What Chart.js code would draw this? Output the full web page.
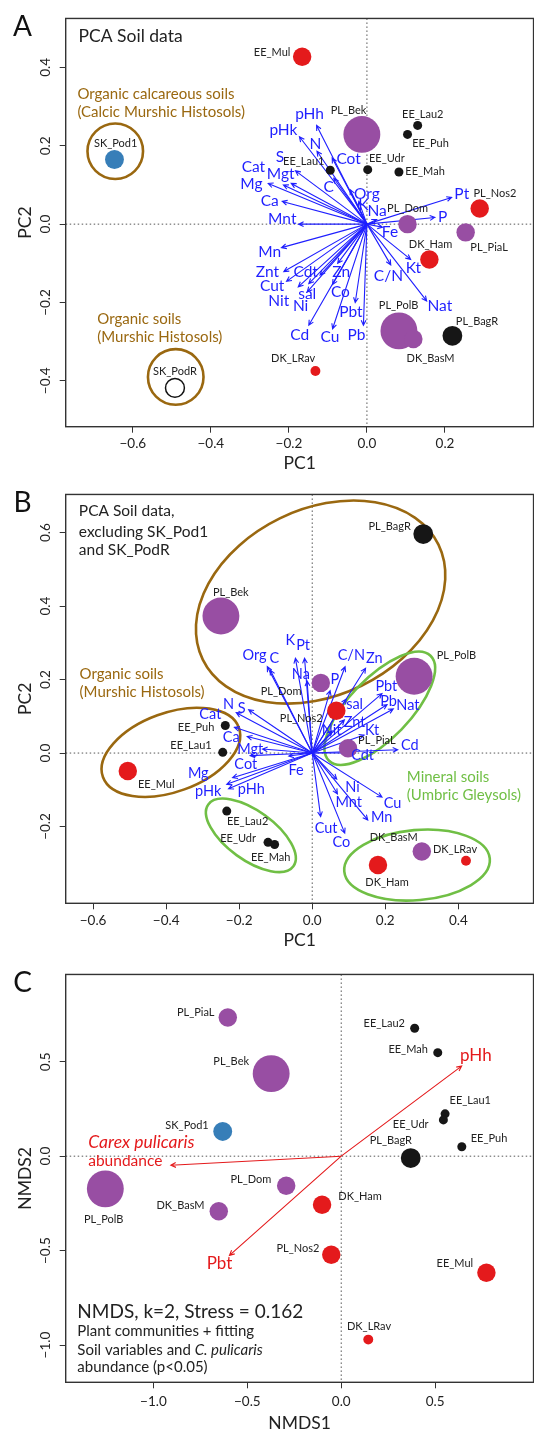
<!DOCTYPE html>
<html>
<head>
<meta charset="utf-8">
<script src="https://cdn.jsdelivr.net/npm/chart.js@4.4.1/dist/chart.umd.min.js"></script>
<style>
html, body { margin: 0; padding: 0; background: #fff; overflow: hidden; width: 534px; height: 1432px; }
.panel { position: absolute; left: 0; width: 552px; }
</style>
</head>
<body>
<div class="panel" style="top:0;height:476px"><canvas id="chartA" width="552" height="476"></canvas></div>
<div class="panel" style="top:476px;height:480px"><canvas id="chartB" width="552" height="480"></canvas></div>
<div class="panel" style="top:956px;height:476px"><canvas id="chartC" width="552" height="476"></canvas></div>
<script>
// sites, colour group and point size class (C. pulicaris abundance)
const sites = ['SK_Pod1','SK_PodR','EE_Mul','EE_Lau1','EE_Lau2','EE_Puh','EE_Udr','EE_Mah','PL_Bek','PL_Nos2','PL_Dom','PL_PiaL','PL_PolB','PL_BagR','DK_Ham','DK_BasM','DK_LRav'];
const siteGroup = ['blue','open','red','black','black','black','black','black','purple','red','purple','purple','purple','black','red','purple','red'];
const siteCex = [2.1, 2.1, 2.05, 1, 1, 1, 1, 1, 4.1, 2.05, 2.05, 2.05, 4.1, 2.2, 2.05, 2.05, 1.1];

// A: PCA all sites
const pcaA_x = [-0.647,-0.492,-0.166,-0.094,0.130,0.104,0.002,0.082,-0.013,0.289,0.104,0.253,0.082,0.219,0.160,0.119,-0.132];
const pcaA_y = [0.165,-0.418,0.427,0.1375,0.252,0.229,0.139,0.133,0.229,0.040,0.000,-0.021,-0.2725,-0.285,-0.090,-0.293,-0.375];
const pcaA_labX = [-0.644,-0.492,-0.243,-0.162,0.143,0.163,0.051,0.149,-0.047,0.328,0.104,0.313,0.081,0.282,0.163,0.163,-0.189];
const pcaA_labY = [0.207,-0.375,0.4375,0.160,0.279,0.207,0.167,0.135,0.289,0.079,0.040,-0.060,-0.208,-0.248,-0.052,-0.343,-0.342];

// B: PCA without SK_Pod1 and SK_PodR
const pcaB_x = [null,null,-0.505,-0.245,-0.234,-0.238,-0.121,-0.103,-0.250,0.066,0.0235,0.098,0.279,0.304,0.180,0.300,0.421];
const pcaB_y = [null,null,-0.049,0.002,-0.158,0.075,-0.243,-0.249,0.373,0.115,0.191,0.013,0.209,0.596,-0.305,-0.268,-0.293];
const pcaB_labX = [null,null,-0.427,-0.332,-0.177,-0.318,-0.203,-0.114,-0.223,-0.030,-0.085,0.177,0.395,0.212,0.205,0.223,0.391];
const pcaB_labY = [null,null,-0.085,0.022,-0.187,0.069,-0.233,-0.284,0.437,0.093,0.169,0.034,0.267,0.618,-0.353,-0.229,-0.262];

// C: NMDS of plant communities
const nmds_x = [-0.631,null,0.773,0.553,0.391,0.642,0.544,0.514,-0.373,-0.053,-0.293,-0.604,-1.256,0.370,-0.102,-0.652,0.144];
const nmds_y = [0.131,null,-0.617,0.224,0.677,0.050,0.192,0.548,0.437,-0.522,-0.157,0.734,-0.173,-0.010,-0.257,-0.292,-0.971];
const nmds_labX = [-0.821,null,0.605,0.687,0.229,0.787,0.370,0.356,-0.586,-0.231,-0.481,-0.775,-1.265,0.264,0.100,-0.856,0.148];
const nmds_labY = [0.164,null,-0.570,0.294,0.705,0.092,0.169,0.566,0.503,-0.487,-0.124,0.762,-0.337,0.083,-0.211,-0.263,-0.902];

// soil variable loadings
const soilVars = ['pHh','pHk','N','S','Cot','Cat','Mgt','Mg','C','Ca','Org','K','Na','Mnt','Pt','P','Fe','Mn','Znt','Cdt','Cut','Nit','sal','Ni','Zn','Co','Pbt','Cd','Cu','Pb','C/N','Kt','Nat'];
const loadA_x = [-0.129,-0.173,-0.128,-0.194,-0.089,-0.214,-0.183,-0.253,-0.085,-0.217,-0.043,-0.021,0.025,-0.175,0.217,0.174,0.040,-0.219,-0.213,-0.120,-0.206,-0.176,-0.149,-0.153,-0.075,-0.088,-0.030,-0.149,-0.088,-0.009,0.061,0.112,0.153];
const loadA_y = [0.252,0.223,0.186,0.104,0.169,0.100,0.136,0.104,0.117,0.058,0.088,0.058,0.012,0.000,0.068,0.017,-0.008,-0.060,-0.121,-0.130,-0.146,-0.160,-0.152,-0.173,-0.100,-0.154,-0.200,-0.258,-0.267,-0.258,-0.104,-0.090,-0.196];
const varA_labX = [-0.147,-0.214,-0.132,-0.223,-0.047,-0.291,-0.221,-0.296,-0.098,-0.249,0.000,-0.009,0.026,-0.217,0.243,0.194,0.059,-0.249,-0.255,-0.157,-0.243,-0.226,-0.153,-0.170,-0.066,-0.068,-0.041,-0.172,-0.095,-0.027,0.055,0.119,0.187];
const varA_labY = [0.282,0.240,0.204,0.171,0.167,0.146,0.129,0.102,0.096,0.060,0.077,0.050,0.033,0.0125,0.077,0.017,-0.021,-0.071,-0.123,-0.123,-0.158,-0.196,-0.179,-0.210,-0.123,-0.173,-0.225,-0.283,-0.288,-0.283,-0.132,-0.113,-0.210];
const loadB_x = [-0.229,-0.234,-0.208,-0.174,-0.170,-0.213,-0.136,-0.218,-0.115,-0.178,-0.123,-0.046,-0.014,0.069,-0.021,0.049,-0.064,0.152,0.088,0.118,0.023,0.054,0.093,0.067,0.146,0.089,0.191,0.234,0.191,0.205,0.090,0.142,0.222];
const loadB_y = [-0.097,-0.085,0.110,0.118,-0.007,0.070,0.011,-0.067,0.226,0.045,0.235,0.258,0.196,-0.111,0.258,0.170,-0.008,-0.182,0.090,0.000,-0.173,0.060,0.147,-0.071,0.231,-0.218,0.162,0.009,-0.120,0.132,0.235,0.049,0.120];
const varB_labX = [-0.167,-0.285,-0.229,-0.193,-0.182,-0.279,-0.170,-0.312,-0.104,-0.222,-0.158,-0.060,-0.031,0.100,-0.025,0.062,-0.044,0.190,0.116,0.138,0.038,0.053,0.116,0.110,0.170,0.080,0.203,0.267,0.220,0.209,0.107,0.164,0.262];
const varB_labY = [-0.100,-0.105,0.133,0.123,-0.031,0.105,0.011,-0.055,0.258,0.044,0.265,0.307,0.213,-0.135,0.292,0.200,-0.046,-0.176,0.085,-0.007,-0.204,0.062,0.133,-0.093,0.258,-0.242,0.182,0.022,-0.138,0.142,0.265,0.062,0.129];

// C: fitted vectors (envfit, p<0.05)
const fitVars = ['pHh', 'Carex pulicaris', 'Pbt'];
const fit_x = [0.641, -0.907, -0.595];
const fit_y = [0.477, -0.048, -0.525];
const fit_labX = [0.717, -1.347, -0.648];
const fit_labY = [0.532, 0.071, -0.570];

// axis ticks
const ticksA_x = [-0.6, -0.4, -0.2, 0, 0.2], ticksA_y = [-0.4, -0.2, 0, 0.2, 0.4];
const ticksB_x = [-0.6, -0.4, -0.2, 0, 0.2, 0.4], ticksB_y = [-0.2, 0, 0.2, 0.4, 0.6];
const ticksC_x = [-1, -0.5, 0, 0.5], ticksC_y = [-1, -0.5, 0, 0.5];

const FONT = 'Lato, "Open Sans", sans-serif';
const BROWN = '#9a6810', GREEN = '#70bf45', BLUE = '#1f1fff', RED = '#e41a1c';
const fills = { blue: '#377eb8', red: '#e41a1c', purple: '#984ea3', black: '#161616', open: 'rgba(0,0,0,0)' };

function fmt(v) {
    return (v < 0 ? '\u2212' : '') + Math.abs(v).toFixed(1);
}

function arrow(ctx, x0, y0, x1, y1, color) {
    const ang = Math.atan2(y1 - y0, x1 - x0), h = 5.5, s = 0.45;
    ctx.strokeStyle = color;
    ctx.lineWidth = 1.1;
    ctx.beginPath();
    ctx.moveTo(x0, y0);
    ctx.lineTo(x1, y1);
    ctx.moveTo(x1 - h * Math.cos(ang - s), y1 - h * Math.sin(ang - s));
    ctx.lineTo(x1, y1);
    ctx.lineTo(x1 - h * Math.cos(ang + s), y1 - h * Math.sin(ang + s));
    ctx.stroke();
}

function text(ctx, t, x, y, size, color, align, italic) {
    ctx.font = (italic ? 'italic ' : '') + size + 'px ' + FONT;
    ctx.fillStyle = color;
    ctx.textAlign = align || 'center';
    ctx.textBaseline = 'middle';
    ctx.fillText(t, x, y);
}

function panelPlugin(o) {
    return {
        id: 'panel' + o.letter,
        beforeDatasetsDraw(chart) {
            const ctx = chart.ctx, xs = chart.scales.x, ys = chart.scales.y, a = chart.chartArea;
            const ox = xs.getPixelForValue(0), oy = ys.getPixelForValue(0);
            const unit = xs.getPixelForValue(1) - ox;
            ctx.save();
            // dotted zero lines
            ctx.strokeStyle = '#555';
            ctx.lineWidth = 1;
            ctx.setLineDash([1.5, 2.5]);
            ctx.beginPath();
            ctx.moveTo(a.left, oy); ctx.lineTo(a.right, oy);
            ctx.moveTo(ox, a.top); ctx.lineTo(ox, a.bottom);
            ctx.stroke();
            ctx.setLineDash([]);
            // soil group outlines
            (o.ellipses || []).forEach(e => {
                ctx.strokeStyle = e.color;
                ctx.lineWidth = 2.6;
                ctx.beginPath();
                ctx.ellipse(xs.getPixelForValue(e.x), ys.getPixelForValue(e.y), e.a * unit, e.b * unit, e.rot * Math.PI / 180, 0, 2 * Math.PI);
                ctx.stroke();
            });
            // loading arrows
            o.vx.forEach((vx, i) => {
                arrow(ctx, ox, oy, xs.getPixelForValue(vx), ys.getPixelForValue(o.vy[i]), o.arrowColor);
            });
            ctx.restore();
        },
        afterDatasetsDraw(chart) {
            const ctx = chart.ctx, xs = chart.scales.x, ys = chart.scales.y;
            ctx.save();
            sites.forEach((s, i) => {
                if (o.lx[i] === null) return;
                text(ctx, s, xs.getPixelForValue(o.lx[i]), ys.getPixelForValue(o.ly[i]), 11, '#222');
            });
            o.vnames.forEach((n, i) => {
                const al = o.vAlign ? o.vAlign[i] : 'center';
                const sz = Array.isArray(o.vSize) ? o.vSize[i] : o.vSize;
                text(ctx, n, xs.getPixelForValue(o.vlx[i]), ys.getPixelForValue(o.vly[i]), sz, o.arrowColor, al, o.vItalic && o.vItalic[i]);
            });
            (o.notes || []).forEach(n => {
                let x = xs.getPixelForValue(n.x);
                const y = ys.getPixelForValue(n.y);
                n.segs.forEach(sg => {
                    text(ctx, sg.t, x, y, n.size, n.color, 'left', sg.it);
                    x += ctx.measureText(sg.t).width;
                });
            });
            ctx.restore();
        },
        afterDraw(chart) {
            const ctx = chart.ctx, ys = chart.scales.y, a = chart.chartArea;
            ctx.save();
            ctx.strokeStyle = '#333';
            ctx.lineWidth = 1.4;
            ctx.strokeRect(a.left, a.top, a.right - a.left, a.bottom - a.top);
            // rotated y tick labels
            ys.ticks.forEach(t => {
                ctx.save();
                ctx.translate(a.left - 20.5, ys.getPixelForValue(t.value));
                ctx.rotate(-Math.PI / 2);
                text(ctx, fmt(t.value), 0, 0, 13.5, '#222');
                ctx.restore();
            });
            // axis titles
            text(ctx, o.xTitle, (a.left + a.right) / 2, a.bottom + o.xTitleOff, 17.5, '#222');
            ctx.save();
            ctx.translate(25.5, (a.top + a.bottom) / 2);
            ctx.rotate(-Math.PI / 2);
            text(ctx, o.yTitle, 0, 0, 17.5, '#222');
            ctx.restore();
            text(ctx, o.letter, 22.6, a.top + 9, 28, '#111');
            ctx.restore();
        }
    };
}

function makePanel(id, o) {
    const pts = [], radius = [], bg = [], bc = [], bw = [];
    sites.forEach((s, i) => {
        if (o.px[i] === null) return;
        pts.push({ x: o.px[i], y: o.py[i] });
        radius.push(siteCex[i] * 4.5);
        bg.push(fills[siteGroup[i]]);
        bc.push(siteGroup[i] === 'open' ? '#111' : 'rgba(0,0,0,0)');
        bw.push(siteGroup[i] === 'open' ? 1.5 : 0);
    });
    const tickFont = { family: FONT, size: 13.5 };
    new Chart(document.getElementById(id), {
        type: 'scatter',
        data: {
            datasets: [{
                data: pts,
                pointRadius: radius,
                pointHoverRadius: radius,
                backgroundColor: bg,
                borderColor: bc,
                borderWidth: bw
            }]
        },
        options: {
            responsive: false,
            animation: false,
            events: [],
            devicePixelRatio: 1,
            layout: { padding: { left: 0, right: o.padRight, top: o.padTop, bottom: 0 } },
            plugins: { legend: { display: false }, tooltip: { enabled: false } },
            scales: {
                x: {
                    type: 'linear', min: o.xmin, max: o.xmax,
                    afterBuildTicks: s => { s.ticks = o.xticks.map(v => ({ value: v })); },
                    afterFit: s => { s.height = o.xAxisH; },
                    grid: { drawOnChartArea: false, drawTicks: true, tickLength: 6, color: '#333' },
                    border: { display: false },
                    ticks: { font: tickFont, color: '#222', padding: o.tickPad, maxRotation: 0, callback: v => fmt(v) }
                },
                y: {
                    type: 'linear', min: o.ymin, max: o.ymax,
                    afterBuildTicks: s => { s.ticks = o.yticks.map(v => ({ value: v })); },
                    afterFit: s => { s.width = 65.7; },
                    grid: { drawOnChartArea: false, drawTicks: true, tickLength: 6, color: '#333' },
                    border: { display: false },
                    ticks: { display: false }
                }
            }
        },
        plugins: [panelPlugin(o)]
    });
}

makePanel('chartA', {
    letter: 'A', xTitle: 'PC1', yTitle: 'PC2', xTitleOff: 36.6, tickPad: 3,
    padTop: 10, padRight: 6.5, xAxisH: 49.3,
    xmin: -0.772, xmax: 0.427, ymin: -0.517, ymax: 0.525,
    xticks: ticksA_x, yticks: ticksA_y,
    px: pcaA_x, py: pcaA_y, lx: pcaA_labX, ly: pcaA_labY,
    vnames: soilVars, vx: loadA_x, vy: loadA_y, vlx: varA_labX, vly: varA_labY,
    vSize: 15.5, arrowColor: BLUE,
    ellipses: [
        { x: -0.645, y: 0.186, a: 0.0712, b: 0.0712, rot: 0, color: BROWN },
        { x: -0.490, y: -0.390, a: 0.0712, b: 0.0712, rot: 0, color: BROWN }
    ],
    notes: [
        { segs: [{ t: 'PCA Soil data' }], x: -0.739, y: 0.479, size: 17.5, color: '#222' },
        { segs: [{ t: 'Organic calcareous soils' }], x: -0.742, y: 0.332, size: 15, color: BROWN },
        { segs: [{ t: '(Calcic Murshic Histosols)' }], x: -0.742, y: 0.285, size: 15, color: BROWN },
        { segs: [{ t: 'Organic soils' }], x: -0.691, y: -0.242, size: 15, color: BROWN },
        { segs: [{ t: '(Murshic Histosols)' }], x: -0.691, y: -0.288, size: 15, color: BROWN }
    ]
});

makePanel('chartB', {
    letter: 'B', xTitle: 'PC1', yTitle: 'PC2', xTitleOff: 36.7, tickPad: 3,
    padTop: 10, padRight: 6.5, xAxisH: 52.7,
    xmin: -0.675, xmax: 0.606, ymin: -0.409, ymax: 0.704,
    xticks: ticksB_x, yticks: ticksB_y,
    px: pcaB_x, py: pcaB_y, lx: pcaB_labX, ly: pcaB_labY,
    vnames: soilVars, vx: loadB_x, vy: loadB_y, vlx: varB_labX, vly: varB_labY,
    vSize: 14.5, arrowColor: BLUE,
    ellipses: [
        { x: 0.023, y: 0.411, a: 0.359, b: 0.255, rot: -26, color: BROWN },
        { x: -0.387, y: 0.002, a: 0.198, b: 0.108, rot: -20, color: BROWN },
        { x: 0.185, y: 0.122, a: 0.200, b: 0.083, rot: -46, color: GREEN },
        { x: -0.168, y: -0.224, a: 0.144, b: 0.067, rot: 36, color: GREEN },
        { x: 0.287, y: -0.305, a: 0.200, b: 0.096, rot: -5, color: GREEN }
    ],
    notes: [
        { segs: [{ t: 'PCA Soil data,' }], x: -0.639, y: 0.658, size: 15.5, color: '#222' },
        { segs: [{ t: 'excluding SK_Pod1' }], x: -0.639, y: 0.603, size: 15.5, color: '#222' },
        { segs: [{ t: 'and SK_PodR' }], x: -0.639, y: 0.553, size: 15.5, color: '#222' },
        { segs: [{ t: 'Organic soils' }], x: -0.637, y: 0.215, size: 15, color: BROWN },
        { segs: [{ t: '(Murshic Histosols)' }], x: -0.637, y: 0.166, size: 15, color: BROWN },
        { segs: [{ t: 'Mineral soils' }], x: 0.259, y: -0.065, size: 15, color: GREEN },
        { segs: [{ t: '(Umbric Gleysols)' }], x: 0.259, y: -0.115, size: 15, color: GREEN }
    ]
});

makePanel('chartC', {
    letter: 'C', xTitle: 'NMDS1', yTitle: 'NMDS2', xTitleOff: 41, tickPad: 5,
    padTop: 9, padRight: 3.3, xAxisH: 49.7,
    xmin: -1.467, xmax: 1.024, ymin: -1.197, ymax: 0.962,
    xticks: ticksC_x, yticks: ticksC_y,
    px: nmds_x, py: nmds_y, lx: nmds_labX, ly: nmds_labY,
    vnames: fitVars, vx: fit_x, vy: fit_y, vlx: fit_labX, vly: fit_labY,
    vSize: [17, 17.5, 17], vAlign: ['center', 'left', 'center'], vItalic: [false, true, false],
    arrowColor: RED,
    notes: [
        { segs: [{ t: 'abundance' }], x: -1.347, y: -0.026, size: 15.5, color: RED },
        { segs: [{ t: 'NMDS, k=2, Stress = 0.162' }], x: -1.405, y: -0.823, size: 19, color: '#222' },
        { segs: [{ t: 'Plant communities + fitting' }], x: -1.405, y: -0.926, size: 15, color: '#222' },
        { segs: [{ t: 'Soil variables and ' }, { t: 'C. pulicaris', it: true }], x: -1.405, y: -1.026, size: 15, color: '#222' },
        { segs: [{ t: 'abundance (p<0.05)' }], x: -1.405, y: -1.119, size: 15, color: '#222' }
    ]
});
</script>
</body>
</html>
